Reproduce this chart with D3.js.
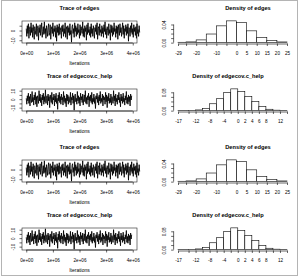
<!DOCTYPE html>
<html>
<head>
<meta charset="utf-8">
<title>mcmc diagnostics</title>
<script src="https://cdn.jsdelivr.net/npm/d3@7"></script>
<style>
  body { margin: 0; background: #fff; }
  text { font-family: "Liberation Sans", Arial, sans-serif; fill: #000; }
</style>
</head>
<body>
<script>
// sampled chain values, one every iterStep iterations
let iterStep = 20000;
let edgesTrace = [2,-6,5,-3,7,-8,1,4,-5,8,-2,3,-7,6,-1,-9,4,0,-4,7,-6,2,5,-10,3,-2,6,-5,1,8,-7,-1,4,-4,9,-3,2,-8,5,0,-6,3,7,-5,-2,6,-9,1,4,-3,8,-6,2,-1,5,-7,3,-11,6,-2,4,-5,7,-4,0,3,-8,5,-1,6,-6,2,-3,8,-7,1,4,-9,5,-2,3,-5,7,-4,0,-12,4,6,-3,2,-7,8,-1,5,-6,3,-4,7,-2,1,-8,6,-5,4,0,-3,9,-6,2,-7,5,-1,3,-10,6,-4,8,-2,1,-5,4,-7,7,-3,2,-6,5,0,-8,3,-1,6,-4,8,-9,2,4,-5,7,-2,1,-6,5,-3,3,-7,6,-1,9,-4,2,-8,4,0,-5,7,-3,1,-10,6,-2,5,-6,3,-4,8,-1,2,-7,5,-3,4,-9,6,0,-5,7,-2,3,-6,1,8,-4,5,-8,2,-1,6,-5,4,-3,7,-11,3,1,-6,5,-2,8,-4,2,-7,6,-1,3,-5,4,-8,7,-3,1,-6,5,-2];
let chelpTrace = [1,-6,4,-2,7,-5,3,-8,6,0,-4,9,-3,2,-7,5,-1,8,-6,3,-9,4,1,-5,10,-2,6,-4,2,-8,5,-1,7,-6,3,-3,11,-5,1,4,-7,6,-2,3,-10,5,0,-4,8,-6,2,-1,6,-8,4,-3,7,-5,1,-12,5,-2,8,-4,3,-6,6,-1,2,-7,9,-3,4,-5,1,-9,6,-2,5,-6,3,0,-4,8,-7,2,-1,7,-5,4,-13,3,6,-3,1,-6,9,-2,4,-5,2,-8,7,-1,3,-4,6,-7,1,5,-3,10,-5,2,-6,4,-1,7,-9,3,-2,5,-4,8,-6,1,-3,6,-5,2,-11,4,0,7,-4,3,-7,5,-2,9,-5,1,-3,6,-8,4,-1,2,-6,8,-3,5,-10,3,-2,7,-5,1,-4,6,-7,3,0,-5,10,-2,4,-8,6,-3,1,-6,5,-1,8,-4,2,-9,6,-2,3,-5,7,-3,1,-7,4,-1,9,-5,2,-6,5,-3,3,-8,6,-1,4];
let traceXTicks = [0, 1e6, 2e6, 3e6, 4e6];
let edgesTraceTicks = [-10, -5, 0, 5];
let edgesTraceLabels = [-10, 0];
let chelpTraceTicks = [-10, -5, 0, 5, 10];
let chelpTraceLabels = [-10, 0, 10];

// histogram breaks and densities
let edgesBreaks = [-29, -25, -20, -15, -10, -5, 0, 5, 10, 15, 20, 25];
let edgesDensity = [0.0008, 0.0016, 0.006, 0.019, 0.037, 0.048, 0.044, 0.026, 0.011, 0.0045, 0.0015];
let edgesXLabels = [-29, -20, -10, 0, 5, 10, 15, 20, 25];
let edgesYTicks = [0, 0.01, 0.02, 0.03, 0.04];
let edgesYLabels = [0, 0.04];
let chelpBreaks = [-17, -14, -12, -10, -8, -6, -4, -2, 0, 2, 4, 6, 8, 10, 12, 14];
let chelpDensity = [0.001, 0.0013, 0.003, 0.010, 0.030, 0.052, 0.080, 0.095, 0.083, 0.062, 0.039, 0.018, 0.006, 0.002, 0.001];
let chelpXLabels = [-17, -12, -8, -4, 0, 2, 4, 6, 8, 12];
let chelpYTicks = [0, 0.02, 0.04, 0.06, 0.08];
let chelpYLabels = [0, 0.08];

// the page shows the same figure twice
let rowTops = [0, 68, 139, 207];
let rowVars = ["edges", "edgecov.c_help", "edges", "edgecov.c_help"];

let fontFam = "Liberation Sans, Arial, sans-serif";
let svg = d3.select("body").append("svg").attr("width", 299).attr("height", 276);

svg.append("rect")
    .attr("x", 1.5).attr("y", 0.5).attr("width", 296).attr("height", 275)
    .attr("fill", "none").attr("stroke", "#b4b4b4").attr("stroke-width", 1);

function fmtIter(d) {
    return d.toExponential(0).replace(/e([+-])(\d)$/, "e$10$2");
}

function styleAxis(a, size) {
    a.attr("font-family", fontFam).attr("font-size", size);
    a.selectAll("line").attr("stroke-width", 0.6);
    a.selectAll("path").attr("stroke-width", 0.6);
}

function drawTrace(o, name, values, yTicks, yLabels) {
    let g = svg.append("g");
    let xMax = d3.max(traceXTicks);
    let x = d3.scaleLinear().domain([-0.04 * xMax, xMax * 1.04]).range([22, 137]);
    let ext = d3.extent(values);
    let pad = 0.04 * (ext[1] - ext[0]);
    let y = d3.scaleLinear().domain([ext[0] - pad, ext[1] + pad]).range([o + 43, o + 21]);

    let line = d3.line()
        .x(function(d, i) { return x(i * iterStep); })
        .y(function(d) { return y(d); });
    g.append("path").datum(values)
        .attr("d", line)
        .attr("fill", "none").attr("stroke", "#000").attr("stroke-width", 0.85);

    g.append("rect")
        .attr("x", x.range()[0]).attr("y", y.range()[1])
        .attr("width", x.range()[1] - x.range()[0])
        .attr("height", y.range()[0] - y.range()[1])
        .attr("fill", "none").attr("stroke", "#222").attr("stroke-width", 0.6);

    let xa = g.append("g").attr("transform", "translate(0," + (o + 43) + ")")
        .call(d3.axisBottom(x).tickValues(traceXTicks).tickSize(2.5).tickFormat(fmtIter));
    xa.select(".domain").remove();
    xa.append("line").attr("x1", x(0)).attr("x2", x(xMax)).attr("stroke", "#000");
    xa.selectAll("text").attr("y", 12).attr("dy", null);
    styleAxis(xa, 4.6);

    let ya = g.append("g").attr("transform", "translate(" + x.range()[0] + ",0)")
        .call(d3.axisLeft(y).tickValues(yTicks).tickSize(2.5)
            .tickFormat(function(d) { return yLabels.includes(d) ? d : ""; }));
    ya.select(".domain").remove();
    ya.selectAll("text")
        .attr("x", null).attr("dy", null)
        .attr("text-anchor", "middle")
        .attr("transform", "translate(-7.5,0) rotate(-90)");
    styleAxis(ya, 4.6);

    g.append("text").text("Trace of " + name)
        .attr("x", (x.range()[0] + x.range()[1]) / 2).attr("y", o + 10)
        .attr("text-anchor", "middle").attr("font-weight", "bold").attr("font-size", 5.7);
    g.append("text").text("Iterations")
        .attr("x", (x.range()[0] + x.range()[1]) / 2).attr("y", o + 65)
        .attr("text-anchor", "middle").attr("font-size", 5);
}

function drawDensity(o, name, breaks, dens, xLabels, yTicks, yLabels, titleX) {
    let g = svg.append("g");
    let b0 = breaks[0], b1 = breaks[breaks.length - 1];
    let x = d3.scaleLinear().domain([b0, b1]).range([178, 287]);
    let yMax = d3.max(dens);
    let y = d3.scaleLinear().domain([-0.04 * yMax, yMax * 1.04]).range([o + 43.5, o + 20]);

    g.selectAll("rect").data(dens).join("rect")
        .attr("x", function(d, i) { return x(breaks[i]); })
        .attr("width", function(d, i) { return x(breaks[i + 1]) - x(breaks[i]); })
        .attr("y", function(d) { return y(d); })
        .attr("height", function(d) { return y(0) - y(d); })
        .attr("fill", "#fff").attr("stroke", "#000").attr("stroke-width", 0.6);

    let xa = g.append("g").attr("transform", "translate(0," + (o + 43.5) + ")")
        .call(d3.axisBottom(x).tickValues(breaks).tickSize(2.5).tickSizeOuter(0)
            .tickFormat(function(d) { return xLabels.includes(d) ? d : ""; }));
    xa.selectAll("text").attr("y", 11).attr("dy", null);
    styleAxis(xa, 4.6);

    let yLeft = x(b0 - 0.04 * (b1 - b0));
    let ya = g.append("g").attr("transform", "translate(" + yLeft + ",0)")
        .call(d3.axisLeft(y).tickValues(yTicks).tickSize(2.5)
            .tickFormat(function(d) { return yLabels.includes(d) ? d.toFixed(2) : ""; }));
    ya.select(".domain").remove();
    ya.append("line").attr("y1", y(yTicks[0])).attr("y2", y(yTicks[yTicks.length - 1])).attr("stroke", "#000");
    ya.selectAll("text")
        .attr("x", null).attr("dy", null)
        .attr("text-anchor", "middle")
        .attr("transform", "translate(-7.5,0) rotate(-90)");
    styleAxis(ya, 4.6);

    g.append("text").text("Density of " + name)
        .attr("x", titleX).attr("y", o + 10)
        .attr("text-anchor", "middle").attr("font-weight", "bold").attr("font-size", 5.7);
}

rowTops.forEach(function(o, r) {
    if (rowVars[r] == "edges") {
        drawTrace(o, rowVars[r], edgesTrace, edgesTraceTicks, edgesTraceLabels);
        drawDensity(o, rowVars[r], edgesBreaks, edgesDensity, edgesXLabels, edgesYTicks, edgesYLabels, 248);
    } else {
        drawTrace(o, rowVars[r], chelpTrace, chelpTraceTicks, chelpTraceLabels);
        drawDensity(o, rowVars[r], chelpBreaks, chelpDensity, chelpXLabels, chelpYTicks, chelpYLabels, 228);
    }
});
</script>
</body>
</html>
